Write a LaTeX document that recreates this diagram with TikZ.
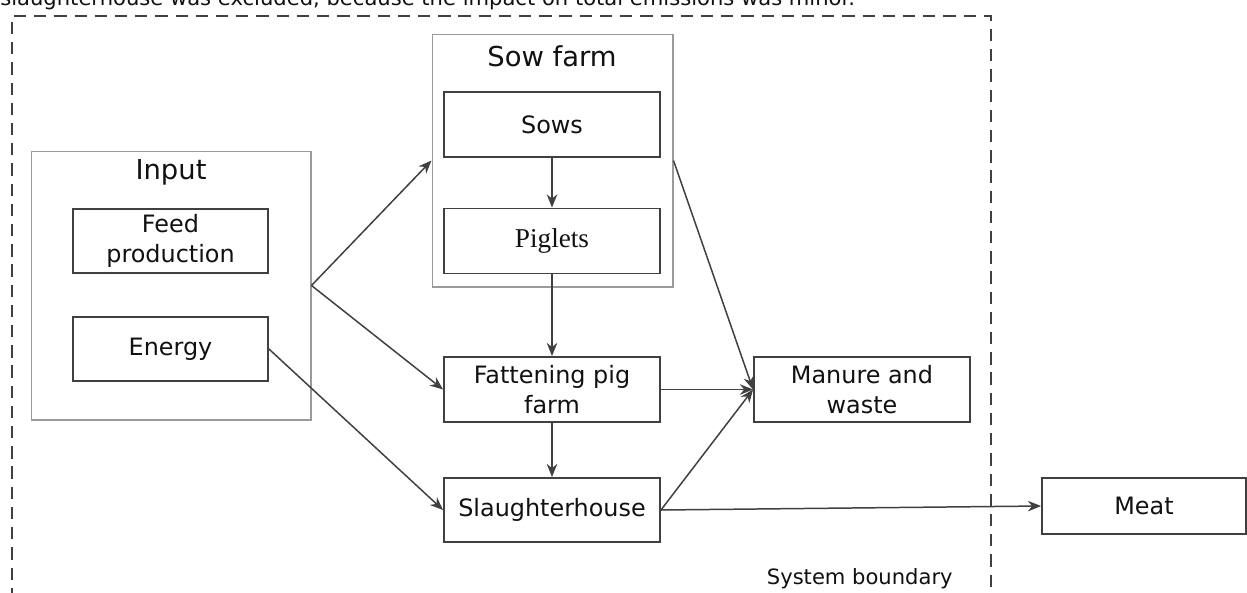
\documentclass[tikz,border=0pt]{standalone}
\usepackage{fontspec}
\setmainfont{DejaVu Sans}
\newfontfamily\timesface{Liberation Serif}
\usepackage{xcolor}
\usepackage{tikz}
\usetikzlibrary{arrows.meta}
\definecolor{ink}{HTML}{111111}
\definecolor{edge}{HTML}{404040}
\definecolor{frame}{HTML}{9A9A9A}
\tikzset{
  box/.style={draw=edge, line width=1.1pt, minimum width=4.32cm, minimum height=1.3cm,
    inner sep=0pt, align=center, text=ink, font=\fontsize{13.6}{17}\selectfont},
  group/.style={draw=frame, line width=0.6pt, inner sep=0pt},
  head/.style={text=ink, font=\fontsize{15.6}{18}\selectfont},
  note/.style={text=ink, font=\fontsize{12}{14}\selectfont},
  conn/.style={draw=edge, line width=0.85pt, -{Stealth[length=7.5pt,width=6pt]}},
  boundary/.style={draw=edge, line width=1.1pt, dash pattern=on 7pt off 4.5pt}
}

\begin{document}
\begin{tikzpicture}[x=0.02cm, y=-0.02cm]
  \useasboundingbox[fill=white] (0,0) rectangle (1247,592);

  \node[note, anchor=base west, inner sep=0pt] (caption) at (0,5)
    {slaughterhouse was excluded, because the impact on total emissions was minor.};
  \draw[boundary] (12,600) -- (12,16) -- (991,16) -- (991,600);
  \node[note, anchor=base east, inner sep=0pt] (sysb) at (953,584) {System boundary};

  \node[group, minimum width=5.6cm, minimum height=5.38cm] (input) at (171,285.5) {};
  \node[head] (inputlbl) at (171,172) {Input};
  \node[box, minimum width=3.9cm, minimum height=1.28cm] (feed) at (170.5,241) {Feed\\production};
  \node[box, minimum width=3.9cm, minimum height=1.28cm] (energy) at (170.5,349) {Energy};

  \node[group, minimum width=4.82cm, minimum height=5.06cm] (sowfarm) at (552.5,160.5) {};
  \node[head] (sowfarmlbl) at (552,56) {Sow farm};
  \node[box] (sows) at (552,124.5) {Sows};
  \node[box, font=\timesface\fontsize{15.5}{18}\selectfont] (piglets) at (552,241) {Piglets};

  \node[box] (fattening) at (552,389.5) {Fattening pig\\farm};
  \node[box, minimum height=1.28cm] (slaughter) at (552,510) {Slaughterhouse};
  \node[box] (manure) at (862,389.5) {Manure and\\waste};
  \node[box, minimum width=4.08cm, minimum height=1.12cm] (meat) at (1144,506) {Meat};

  \draw[conn] (input.east) -- (sowfarm.west);
  \draw[conn] (input.east) -- (fattening.west);
  \draw[conn] (energy.east) -- (slaughter.west);
  \draw[conn] (sows.south) -- (piglets.north);
  \draw[conn] (piglets.south) -- (fattening.north);
  \draw[conn] (fattening.south) -- (slaughter.north);
  \draw[conn] (sowfarm.east) -- (manure.west);
  \draw[conn] (fattening.east) -- (manure.west);
  \draw[conn] (slaughter.east) -- (manure.west);
  \draw[conn] (slaughter.east) -- (meat.west);
\end{tikzpicture}
\end{document}
